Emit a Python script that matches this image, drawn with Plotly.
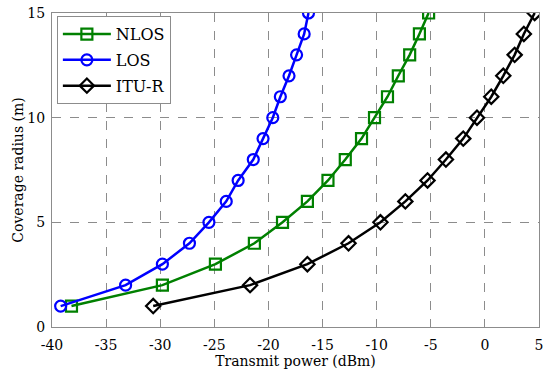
import plotly.graph_objects as go

radius = list(range(1, 16))
los_power = [-39.2, -33.2, -29.8, -27.3, -25.5, -23.9, -22.8, -21.4, -20.5, -19.6, -18.9, -18.1, -17.4, -16.7, -16.3]
nlos_power = [-38.2, -29.8, -24.9, -21.3, -18.7, -16.4, -14.5, -12.9, -11.4, -10.2, -9.0, -8.0, -6.95, -6.05, -5.2]
itur_power = [-30.65, -21.7, -16.4, -12.6, -9.65, -7.35, -5.3, -3.6, -2.0, -0.73, 0.59, 1.7, 2.75, 3.6, 4.6]

x_ticks = [-40, -35, -30, -25, -20, -15, -10, -5, 0, 5]
y_ticks = [0, 5, 10, 15]

font_family = "DejaVu Serif"

fig = go.Figure()
fig.add_trace(go.Scatter(x=nlos_power, y=radius, name="NLOS", mode="lines+markers", legendgroup="a",
                         line=dict(color="#008000", width=2.5),
                         marker=dict(symbol="square-open", size=11, color="#008000", line=dict(width=2.2))))
fig.add_trace(go.Scatter(x=los_power, y=radius, name="LOS", mode="lines+markers", legendgroup="b",
                         line=dict(color="#0000ff", width=2.5),
                         marker=dict(symbol="circle-open", size=11, color="#0000ff", line=dict(width=2.2))))
fig.add_trace(go.Scatter(x=itur_power, y=radius, name="ITU-R", mode="lines+markers", legendgroup="c",
                         line=dict(color="black", width=2.5),
                         marker=dict(symbol="diamond-open", size=11, color="black", line=dict(width=2.2))))

axis_common = dict(showgrid=True, gridcolor="#8c8c8c", griddash="dash", gridwidth=1,
                   showline=True, linecolor="#8c8c8c", linewidth=1, mirror=True,
                   zeroline=False, ticks="", automargin=False,
                   tickfont=dict(family=font_family, size=14, color="black"))

fig.update_xaxes(range=[-40, 5], tickvals=x_ticks, ticktext=[str(v) for v in x_ticks],
                 ticklabelstandoff=5,
                 title=dict(text="Transmit power (dBm)", font=dict(family=font_family, size=14, color="black"), standoff=3),
                 **axis_common)
fig.update_yaxes(range=[0, 15], tickvals=y_ticks, ticklabelstandoff=3,
                 title=dict(text="Coverage radius (m)", font=dict(family=font_family, size=14, color="black"), standoff=0),
                 **axis_common)

fig.update_layout(
    width=550, height=374,
    margin=dict(l=52, r=11, t=13, b=47),
    plot_bgcolor="white", paper_bgcolor="white",
    font=dict(family=font_family, size=14, color="black"),
    legend=dict(x=0.01, y=0.99, xanchor="left", yanchor="top",
                bgcolor="white", bordercolor="#8c8c8c", borderwidth=1,
                font=dict(family=font_family, size=16, color="black"),
                traceorder="grouped", tracegroupgap=2, itemwidth=48),
    showlegend=True,
)

fig.write_html("out.html", config={"displayModeBar": False},
               post_script="document.body.style.margin='0';document.body.style.overflow='hidden';")
